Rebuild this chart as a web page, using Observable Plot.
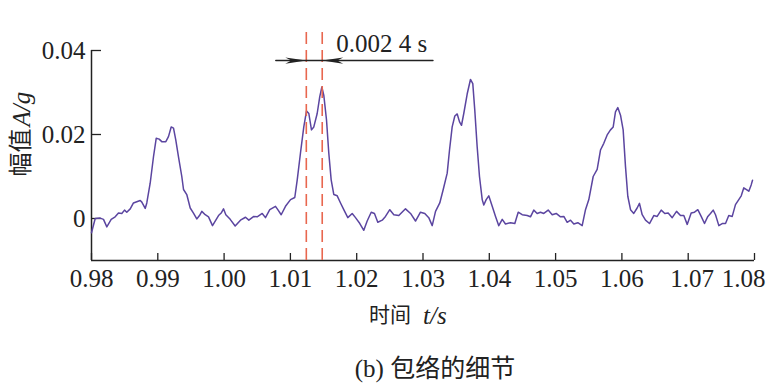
<!DOCTYPE html>
<html>
<head>
<meta charset="utf-8">
<script src="https://cdn.jsdelivr.net/npm/d3@7"></script>
<script src="https://cdn.jsdelivr.net/npm/@observablehq/plot@0.6"></script>
<style>
  html, body { margin: 0; padding: 0; background: #fff; }
  svg text { font-family: "Liberation Serif", "Times New Roman", serif; }
</style>
</head>
<body>
<div id="chart"></div>
<script>
// ---- data ----
const time = [0.98, 0.98056, 0.98131, 0.98181, 0.98231, 0.98297, 0.98357, 0.98407, 0.98457, 0.98498,
  0.98532, 0.98584, 0.98633, 0.98683, 0.98735, 0.98759, 0.98810, 0.98834, 0.98885, 0.98935,
  0.98976, 0.99021, 0.99060, 0.99121, 0.99161, 0.99202, 0.99237, 0.99271, 0.99312, 0.99362,
  0.99388, 0.99437, 0.99489, 0.99538, 0.99588, 0.99629, 0.99664, 0.99715, 0.99765, 0.99825,
  0.99866, 0.99916, 0.99956, 0.99991, 1.00026, 1.00092, 1.00167, 1.00247, 1.00323, 1.00373,
  1.00448, 1.00499, 1.00575, 1.00624, 1.00689, 1.00775, 1.00810, 1.00861, 1.00926, 1.01002,
  1.01066, 1.01103, 1.01152, 1.01202, 1.01243, 1.01278, 1.01318, 1.01353, 1.01404, 1.01443,
  1.01474, 1.01504, 1.01545, 1.01579, 1.01615, 1.01655, 1.01706, 1.01756, 1.01805, 1.01866,
  1.01932, 1.01982, 1.02047, 1.02107, 1.02158, 1.02219, 1.02268, 1.02318, 1.02385, 1.02434,
  1.02499, 1.02560, 1.02635, 1.02736, 1.02812, 1.02887, 1.02962, 1.03027, 1.03087, 1.03139,
  1.03189, 1.03253, 1.03305, 1.03365, 1.03400, 1.03440, 1.03480, 1.03516, 1.03551, 1.03581,
  1.03615, 1.03667, 1.03716, 1.03751, 1.03781, 1.03817, 1.03852, 1.03893, 1.03917, 1.03953,
  1.03992, 1.04044, 1.04094, 1.04143, 1.04195, 1.04244, 1.04320, 1.04385, 1.04436, 1.04496,
  1.04572, 1.04621, 1.04671, 1.04722, 1.04772, 1.04822, 1.04888, 1.04949, 1.05009, 1.05074,
  1.05124, 1.05175, 1.05225, 1.05275, 1.05335, 1.05401, 1.05451, 1.05501, 1.05567, 1.05627,
  1.05677, 1.05727, 1.05778, 1.05828, 1.05869, 1.05903, 1.05938, 1.05979, 1.06019, 1.06054,
  1.06089, 1.06130, 1.06179, 1.06230, 1.06265, 1.06306, 1.06356, 1.06416, 1.06481, 1.06532,
  1.06593, 1.06647, 1.06698, 1.06759, 1.06824, 1.06884, 1.06934, 1.06985, 1.07045, 1.07095,
  1.07145, 1.07196, 1.07246, 1.07296, 1.07336, 1.07377, 1.07412, 1.07462, 1.07513, 1.07563,
  1.07612, 1.07664, 1.07713, 1.07763, 1.07800, 1.07839, 1.07879, 1.07914, 1.07950, 1.07970];

const amplitude = [-0.0034, 0, 0.0001, -0.0002, -0.0020, -0.0002, 0.0004, 0.0013, 0.0012, 0.0020,
  0.0015, 0.0023, 0.0037, 0.0040, 0.0043, 0.0039, 0.0024, 0.0037, 0.0084, 0.0147,
  0.0191, 0.0189, 0.0183, 0.0183, 0.0195, 0.0218, 0.0215, 0.0187, 0.0147, 0.0100,
  0.0069, 0.0057, 0.0025, 0.0013, -0.0001, 0.0007, 0.0017, 0.0009, 0.0004, -0.0017,
  -0.0006, 0.0007, 0.0013, 0.0023, 0.0009, -0.0002, -0.0018, -0.0004, 0.0003, -0.0004,
  0.0005, 0.0004, 0.0012, 0.0002, 0.0021, 0.0029, 0.0021, 0.0009, 0.0029, 0.0045,
  0.0050, 0.0092, 0.0156, 0.0218, 0.0256, 0.0250, 0.0211, 0.0218, 0.0250, 0.0290,
  0.0313, 0.0293, 0.0234, 0.0156, 0.0092, 0.0057, 0.0054, 0.0037, 0.0021, 0.0002,
  0.0012, 0.0002, -0.0012, -0.0028, -0.0006, 0.0015, 0.0012, -0.0009, -0.0004, 0.0005,
  0.0021, 0.0009, 0.0007, 0.0023, 0.0012, -0.0006, 0.0015, 0.0012, 0.0002, -0.0017,
  0.0017, 0.0037, 0.0069, 0.0108, 0.0163, 0.0218, 0.0244, 0.0249, 0.0230, 0.0222,
  0.0250, 0.0297, 0.0331, 0.0321, 0.0258, 0.0171, 0.0100, 0.0045, 0.0032, 0.0045,
  0.0054, 0.0029, 0.0005, -0.0017, -0.0002, -0.0013, -0.0010, -0.0012, 0.0015, 0.0009,
  0.0007, 0.0004, 0.0020, 0.0012, 0.0015, 0.0012, 0.0020, 0.0009, 0.0012, 0.0004,
  0.0005, -0.0009, -0.0004, -0.0013, -0.0010, -0.0017, 0.0021, 0.0045, 0.0100, 0.0117,
  0.0163, 0.0179, 0.0199, 0.0211, 0.0218, 0.0254, 0.0264, 0.0246, 0.0211, 0.0124,
  0.0053, 0.0021, 0.0012, 0.0025, 0.0036, 0.0009, -0.0004, -0.0012, 0.0007, 0.0005,
  0.0020, 0.0012, 0.0013, 0.0002, 0.0017, 0.0007, 0.0007, -0.0014, 0.0013, 0.0015,
  0.0021, 0.0005, -0.0012, 0.0005, 0.0012, 0.0020, 0.0009, -0.0017, -0.0012, -0.0012,
  0.0007, 0.0005, 0.0033, 0.0045, 0.0054, 0.0073, 0.0069, 0.0065, 0.0080, 0.0091];

const xTicks = [0.98, 0.99, 1.00, 1.01, 1.02, 1.03, 1.04, 1.05, 1.06, 1.07, 1.08];
const xTickLabels = ["0.98", "0.99", "1.00", "1.01", "1.02", "1.03", "1.04", "1.05", "1.06", "1.07", "1.08"];
const yTicks = [0, 0.02, 0.04];
const yTickLabels = ["0", "0.02", "0.04"];
const xDomain = [0.98, 1.08];
const yDomain = [-0.01, 0.04];

// annotation: two peak markers and the interval label
const markerTimes = [1.0124, 1.0148];
const markerSpan = [-0.01, 0.0444];
const intervalLine = [{t: 1.0078}, {t: 1.0315}];
const intervalY = 0.0376;
const intervalLabel = "0.002 4 s";
const intervalLabelAt = {t: 1.0169, a: 0.0416};

const xLabelCJK = "时间", xLabelLatin = "t/s";
const yLabelCJK = "幅值", yLabelLatin = "A/g";
const caption = "(b) 包络的细节";

// ---- build ----
const series = time.map((t, i) => ({t, a: amplitude[i]}));
const xLabelRows = xTicks.map((x, i) => ({x, label: xTickLabels[i]}));
const yLabelRows = yTicks.map((y, i) => ({y, label: yTickLabels[i]}));
const cjk = "Noto Sans CJK SC";
const ink = "#222";

const headRight = {draw(ctx) { ctx.moveTo(0, 0); ctx.lineTo(-21, -3.2); ctx.lineTo(-15, 0); ctx.lineTo(-21, 3.2); ctx.closePath(); }};
const headLeft  = {draw(ctx) { ctx.moveTo(0, 0); ctx.lineTo(21, -3.2); ctx.lineTo(15, 0); ctx.lineTo(21, 3.2); ctx.closePath(); }};

const xLabelOpts = {x: "x", frameAnchor: "bottom", text: "label", lineAnchor: "top", dy: 9, fontSize: 25, fill: ink};

const chart = Plot.plot({
  width: 770,
  height: 392,
  marginLeft: 91,
  marginRight: 16,
  marginTop: 50,
  marginBottom: 132,
  x: {domain: xDomain, axis: null},
  y: {domain: yDomain, axis: null},
  style: {background: "#fff", fontSize: "25px", color: ink},
  marks: [
    // axes lines
    Plot.ruleX([xDomain[0]], {stroke: ink, strokeWidth: 1.5}),
    Plot.ruleY([yDomain[0]], {stroke: ink, strokeWidth: 1.5}),
    // inward ticks
    Plot.tickX(xTicks, {x: d => d, stroke: ink, strokeWidth: 1.3, insetTop: 203}),
    Plot.tickY(yTicks, {y: d => d, stroke: ink, strokeWidth: 1.3, insetRight: 653}),
    // tick labels (last two nudged as in the reference)
    Plot.text(xLabelRows.slice(0, 9), {...xLabelOpts}),
    Plot.text(xLabelRows.slice(9, 10), {...xLabelOpts, dx: 4}),
    Plot.text(xLabelRows.slice(10), {...xLabelOpts, dx: -11}),
    Plot.text(yLabelRows, {y: "y", frameAnchor: "left", text: "label", textAnchor: "end", lineAnchor: "middle", dx: -6, fontSize: 25, fill: ink}),
    // signal
    Plot.line(series, {x: "t", y: "a", stroke: "#5b45a0", strokeWidth: 1.5}),
    // dashed markers
    Plot.ruleX(markerTimes, {x: d => d, y1: markerSpan[0], y2: markerSpan[1], stroke: "#e8674f", strokeWidth: 1.6, strokeDasharray: "12,6"}),
    // interval arrow
    Plot.line(intervalLine, {x: "t", y: () => intervalY, stroke: ink, strokeWidth: 1.5}),
    Plot.dot([markerTimes[0]], {x: d => d, y: () => intervalY, symbol: headRight, fill: ink, stroke: null, r: 5}),
    Plot.dot([markerTimes[1]], {x: d => d, y: () => intervalY, symbol: headLeft, fill: ink, stroke: null, r: 5}),
    Plot.text([intervalLabel], {x: () => intervalLabelAt.t, y: () => intervalLabelAt.a, text: d => d, textAnchor: "start", lineAnchor: "middle", fontSize: 25, fill: ink}),
    // x label
    Plot.text([xLabelCJK], {frameAnchor: "bottom", text: d => d, textAnchor: "end", lineAnchor: "middle", dx: -12, dy: 55, fontSize: 21, fill: ink}),
    Plot.text([xLabelLatin], {frameAnchor: "bottom", text: d => d, textAnchor: "start", lineAnchor: "middle", dx: 0, dy: 55, fontSize: 25, fontStyle: "italic", fill: ink}),
    // y label
    Plot.text([yLabelCJK], {frameAnchor: "left", text: d => d, rotate: -90, textAnchor: "end", lineAnchor: "middle", dx: -70, dy: -27, fontSize: 24, fill: ink}),
    Plot.text([yLabelLatin], {frameAnchor: "left", text: d => d, rotate: -90, textAnchor: "start", lineAnchor: "middle", dx: -70, dy: -29, fontSize: 25, fontStyle: "italic", fill: ink}),
    // caption
    Plot.text([caption], {frameAnchor: "bottom", text: d => d, textAnchor: "middle", lineAnchor: "middle", dx: 12, dy: 108, fontSize: 25, fill: ink})
  ]
});
// CJK glyphs: serif Latin with CJK fallback on any text holding Chinese characters
chart.querySelectorAll("text").forEach(t => {
  if (/[\u4e00-\u9fff]/.test(t.textContent)) t.style.fontFamily = '"Liberation Serif", "' + cjk + '", serif';
});
document.getElementById("chart").appendChild(chart);
</script>
</body>
</html>
